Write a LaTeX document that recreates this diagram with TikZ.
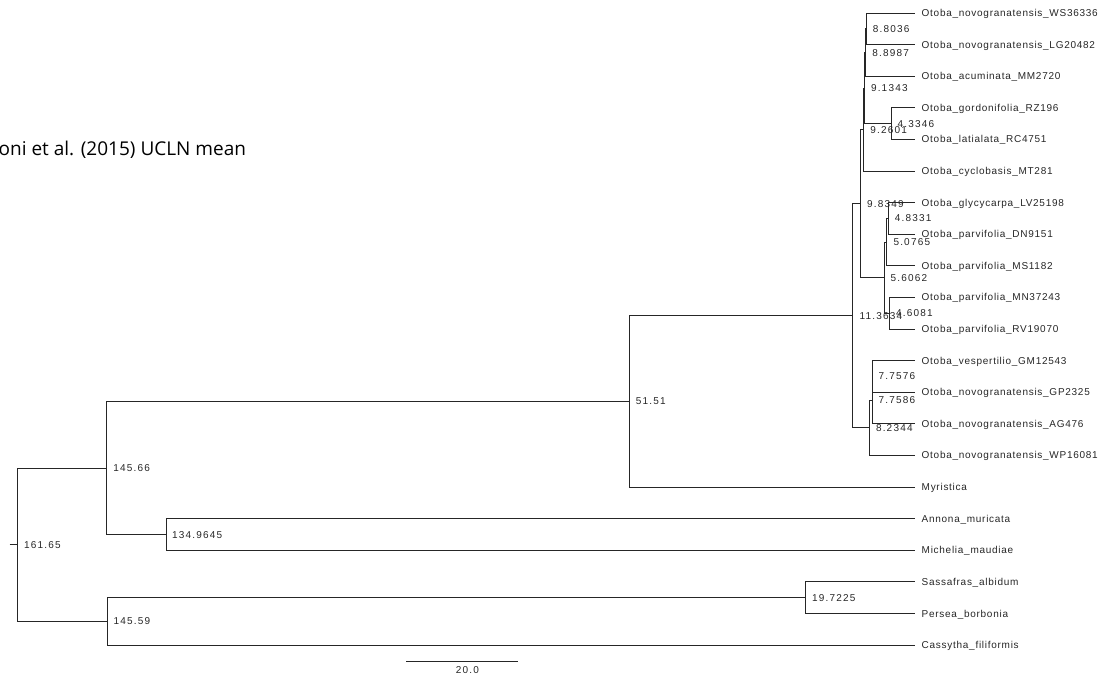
\documentclass[tikz,border=0pt]{standalone}
\usepackage{fontspec}
\setmainfont{Liberation Sans}
\newfontfamily\tipfont[LetterSpace=7.3]{Liberation Sans}
\newfontfamily\numfont[LetterSpace=12]{Liberation Sans}
\newfontfamily\titlefont{Open Sans}
\begin{document}
\begin{tikzpicture}[x=1pt,y=-1pt,
  branch/.style={draw=black!85, line width=0.8pt},
  tiplab/.style={anchor=base west, inner sep=0pt, text=black!85, font=\tipfont\fontsize{10}{12}\selectfont},
  nodelab/.style={anchor=base west, inner sep=0pt, text=black!85, font=\numfont\fontsize{10}{12}\selectfont},
  titlelab/.style={anchor=base west, inner sep=0pt, text=black, font=\titlefont\fontsize{19}{22}\selectfont}]
\useasboundingbox (0,0) rectangle (1104,676);

% title
\node[titlelab] (title) at (-1.5,156) {oni et al. (2015) UCLN mean};

% tips
\coordinate (t0) at (915,13);
\coordinate (t1) at (915,44.6);
\coordinate (t2) at (915,76.2);
\coordinate (t3) at (915,107.8);
\coordinate (t4) at (915,139.4);
\coordinate (t5) at (915,171);
\coordinate (t6) at (915,202.6);
\coordinate (t7) at (915,234.2);
\coordinate (t8) at (915,265.8);
\coordinate (t9) at (915,297.4);
\coordinate (t10) at (915,329);
\coordinate (t11) at (915,360.6);
\coordinate (t12) at (915,392.2);
\coordinate (t13) at (915,423.8);
\coordinate (t14) at (915,455.4);
\coordinate (t15) at (915,487);
\coordinate (t16) at (915,518.6);
\coordinate (t17) at (915,550.2);
\coordinate (t18) at (915,581.8);
\coordinate (t19) at (915,613.4);
\coordinate (t20) at (915,645);

% internal nodes
\coordinate (nA) at (866.1,28.8);   % 8.8036
\coordinate (nB) at (865.6,52.5);   % 8.8987
\coordinate (nC) at (890.9,123.6);  % 4.3346
\coordinate (nD) at (864.3,88.05);  % 9.1343
\coordinate (nE) at (863.6,129.5);  % 9.2601
\coordinate (nF) at (888.2,218.4);  % 4.8331
\coordinate (nG) at (886.8,242.1);  % 5.0765
\coordinate (nH) at (889.4,313.2);  % 4.6081
\coordinate (nI) at (883.9,277.65); % 5.6062
\coordinate (nJ) at (860.4,203.6);  % 9.8349
\coordinate (nK) at (871.9,376.4);  % 7.7576
\coordinate (nL) at (872.6,400.1);  % 7.7586
\coordinate (nM) at (869.3,427.75); % 8.2344
\coordinate (nN) at (851.9,315.7);  % 11.3634
\coordinate (nO) at (629.1,401.3);  % 51.51
\coordinate (nP) at (165.96,534.4); % 134.9645
\coordinate (nQ) at (106.6,467.9);  % 145.66
\coordinate (nR) at (805.5,597.6);  % 19.7225
\coordinate (nS) at (107.0,621.3);  % 145.59
\coordinate (root) at (17.8,544.6); % 161.65
\coordinate (stub) at (9.5,544.6);

% branches
\draw[branch] (nA) |- (t0);  \draw[branch] (nA) |- (t1);
\draw[branch] (nB) |- (nA);  \draw[branch] (nB) |- (t2);
\draw[branch] (nC) |- (t3);  \draw[branch] (nC) |- (t4);
\draw[branch] (nD) |- (nB);  \draw[branch] (nD) |- (nC);
\draw[branch] (nE) |- (nD);  \draw[branch] (nE) |- (t5);
\draw[branch] (nF) |- (t6);  \draw[branch] (nF) |- (t7);
\draw[branch] (nG) |- (nF);  \draw[branch] (nG) |- (t8);
\draw[branch] (nH) |- (t9);  \draw[branch] (nH) |- (t10);
\draw[branch] (nI) |- (nG);  \draw[branch] (nI) |- (nH);
\draw[branch] (nJ) |- (nE);  \draw[branch] (nJ) |- (nI);
\draw[branch] (nK) |- (t11); \draw[branch] (nK) |- (t12);
\draw[branch] (nL) |- (nK);  \draw[branch] (nL) |- (t13);
\draw[branch] (nM) |- (nL);  \draw[branch] (nM) |- (t14);
\draw[branch] (nN) |- (nJ);  \draw[branch] (nN) |- (nM);
\draw[branch] (nO) |- (nN);  \draw[branch] (nO) |- (t15);
\draw[branch] (nP) |- (t16); \draw[branch] (nP) |- (t17);
\draw[branch] (nQ) |- (nO);  \draw[branch] (nQ) |- (nP);
\draw[branch] (nR) |- (t18); \draw[branch] (nR) |- (t19);
\draw[branch] (nS) |- (nR);  \draw[branch] (nS) |- (t20);
\draw[branch] (root) |- (nQ); \draw[branch] (root) |- (nS);
\draw[branch] (stub) -- (root);

% tip labels
\node[tiplab] (l0) at (921.5,16.6) {Otoba\_novogranatensis\_WS36336};
\node[tiplab] (l1) at (921.5,48.2) {Otoba\_novogranatensis\_LG20482};
\node[tiplab] (l2) at (921.5,79.8) {Otoba\_acuminata\_MM2720};
\node[tiplab] (l3) at (921.5,111.4) {Otoba\_gordonifolia\_RZ196};
\node[tiplab] (l4) at (921.5,143) {Otoba\_latialata\_RC4751};
\node[tiplab] (l5) at (921.5,174.6) {Otoba\_cyclobasis\_MT281};
\node[tiplab] (l6) at (921.5,206.2) {Otoba\_glycycarpa\_LV25198};
\node[tiplab] (l7) at (921.5,237.8) {Otoba\_parvifolia\_DN9151};
\node[tiplab] (l8) at (921.5,269.4) {Otoba\_parvifolia\_MS1182};
\node[tiplab] (l9) at (921.5,301) {Otoba\_parvifolia\_MN37243};
\node[tiplab] (l10) at (921.5,332.6) {Otoba\_parvifolia\_RV19070};
\node[tiplab] (l11) at (921.5,364.2) {Otoba\_vespertilio\_GM12543};
\node[tiplab] (l12) at (921.5,395.8) {Otoba\_novogranatensis\_GP2325};
\node[tiplab] (l13) at (921.5,427.4) {Otoba\_novogranatensis\_AG476};
\node[tiplab] (l14) at (921.5,459) {Otoba\_novogranatensis\_WP16081};
\node[tiplab] (l15) at (921.5,490.6) {Myristica};
\node[tiplab] (l16) at (921.5,522.2) {Annona\_muricata};
\node[tiplab] (l17) at (921.5,553.8) {Michelia\_maudiae};
\node[tiplab] (l18) at (921.5,585.4) {Sassafras\_albidum};
\node[tiplab] (l19) at (921.5,617) {Persea\_borbonia};
\node[tiplab] (l20) at (921.5,648.6) {Cassytha\_filiformis};

% node labels
\node[nodelab] (lA) at (872.6,32.4) {8.8036};
\node[nodelab] (lB) at (872.1,56.1) {8.8987};
\node[nodelab] (lC) at (897.4,127.2) {4.3346};
\node[nodelab] (lD) at (870.8,91.65) {9.1343};
\node[nodelab] (lE) at (870.1,133.1) {9.2601};
\node[nodelab] (lF) at (894.7,222) {4.8331};
\node[nodelab] (lG) at (893.3,245.7) {5.0765};
\node[nodelab] (lH) at (895.9,316.8) {4.6081};
\node[nodelab] (lI) at (890.4,281.25) {5.6062};
\node[nodelab] (lJ) at (866.9,207.2) {9.8349};
\node[nodelab] (lK) at (878.4,380) {7.7576};
\node[nodelab] (lL) at (878.4,403.7) {7.7586};
\node[nodelab] (lM) at (875.8,431.35) {8.2344};
\node[nodelab] (lN) at (859.4,319.3) {11.3634};
\node[nodelab] (lO) at (635.6,404.9) {51.51};
\node[nodelab] (lP) at (172.0,538) {134.9645};
\node[nodelab] (lQ) at (113.1,471.5) {145.66};
\node[nodelab] (lR) at (812.0,601.2) {19.7225};
\node[nodelab] (lS) at (113.5,624.9) {145.59};
\node[nodelab] (lroot) at (23.8,548.2) {161.65};

% scale bar
\coordinate (sb1) at (406,661.5);
\coordinate (sb2) at (517.5,661.5);
\draw[branch] (sb1) -- (sb2);
\node[nodelab, anchor=base] (sblab) at (467.5,673.5) {20.0};
\end{tikzpicture}
\end{document}
